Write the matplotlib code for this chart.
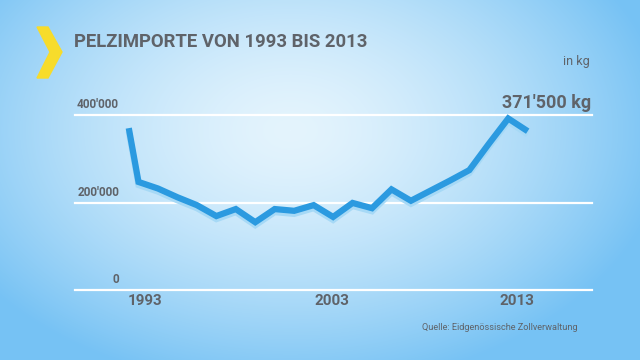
import numpy as np
import matplotlib
matplotlib.use("Agg")
from matplotlib import pyplot as plt
from matplotlib import patheffects as pe
from matplotlib.patches import Polygon

plt.rcParams['font.family'] = ['Roboto', 'DejaVu Sans']

# data (kg)
years = [1992.5, 1993, 1994, 1995, 1996, 1997, 1998, 1999, 2000, 2001, 2002,
         2003, 2004, 2005, 2006, 2007, 2008, 2009, 2010, 2011, 2012, 2013]
imports_kg = [370000, 247000, 232000, 212000, 194000, 169000, 185000, 155000,
              185000, 181000, 194000, 167000, 199000, 187000, 230000, 204000,
              227000, 250000, 274000, 334000, 392000, 363000]
grid_vals = [0, 200000, 400000]
grid_labels = ["0", "200'000", "400'000"]
xtick_pos = [1993.35, 2002.95, 2012.45]
xtick_labels = ["1993", "2003", "2013"]

W, H = 640, 360
fig = plt.figure(figsize=(W / 100, H / 100), dpi=100)

# radial blue background
bg = fig.add_axes([0, 0, 1, 1])
yy, xx = np.mgrid[0:H, 0:W]
r = np.sqrt(((xx - 290) / 380.0) ** 2 + ((yy - 130) / 260.0) ** 2)
r = np.clip(r, 0, 1) ** 1.5
c_in = np.array([228, 244, 253]) / 255
c_out = np.array([118, 194, 244]) / 255
img = c_in[None, None, :] * (1 - r[..., None]) + c_out[None, None, :] * r[..., None]
bg.imshow(img, extent=[0, W, H, 0], aspect='auto')
bg.set_xlim(0, W)
bg.set_ylim(H, 0)
bg.axis('off')

# yellow chevron
chev = Polygon([(37, 27), (48, 27), (62, 52), (48, 78), (37, 78), (50, 52)],
               closed=True, color='#f7dc2b', zorder=3)
bg.add_patch(chev)

gray = '#5f6369'
bg.text(74, 42, "PELZIMPORTE VON 1993 BIS 2013", fontsize=13.3, fontweight='bold',
        color=gray, va='center', ha='left')
bg.text(590, 61, "in kg", fontsize=9, color=gray, va='center', ha='right')
bg.text(591, 103, "371'500 kg", fontsize=13, fontweight='bold', color=gray,
        va='center', ha='right')
bg.text(578, 327, "Quelle: Eidgenössische Zollverwaltung", fontsize=6.6,
        color=gray, va='center', ha='right')

# chart area
px_l, px_r, px_top, px_bot = 75, 592, 115, 290
ax = fig.add_axes([px_l / W, (H - px_bot) / H, (px_r - px_l) / W, (px_bot - px_top) / H])
ax.patch.set_alpha(0)
x0 = 1993 + (px_l - 138.5) / 19.46
x1 = 1993 + (px_r - 138.5) / 19.46
ax.set_xlim(x0, x1)
ax.set_ylim(0, 400000)
for s in ax.spines.values():
    s.set_visible(False)
ax.set_xticks([])
ax.set_yticks([])

for v, lab in zip(grid_vals, grid_labels):
    ax.axhline(v, color='white', lw=1.6, zorder=1, clip_on=False)
    ax.text((119 - px_l) / (px_r - px_l), v + 9000, lab, transform=ax.get_yaxis_transform(),
            ha='right', va='bottom', fontsize=8.5, fontweight='bold', color=gray)

for p, lab in zip(xtick_pos, xtick_labels):
    ax.text(p, -25000, lab, ha='center', va='center', fontsize=11,
            fontweight='bold', color=gray)

ax.plot(years, imports_kg, color='#2b9ae0', lw=4.5, solid_joinstyle='miter',
        solid_capstyle='butt', clip_on=False, zorder=3,
        path_effects=[pe.SimpleLineShadow(offset=(0, -2.2), shadow_color='#a6d9f6', alpha=1.0),
                      pe.Normal()])

plt.savefig("out.png", dpi=100)
